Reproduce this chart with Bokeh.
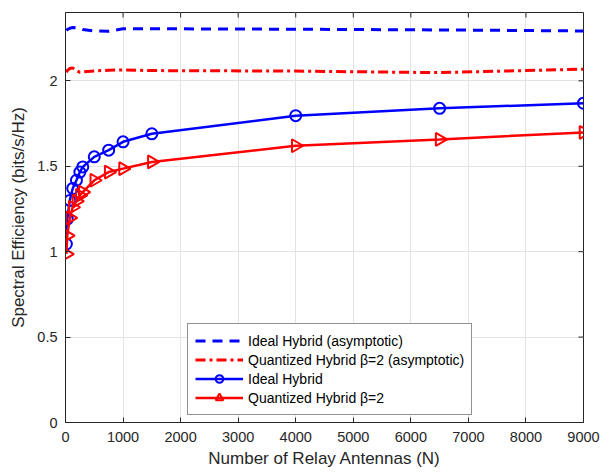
import math
from bokeh.plotting import figure
from bokeh.models import Range1d, FixedTicker, Legend, LegendItem
from bokeh.embed import file_html
from bokeh.resources import INLINE

# ---- data ----
N = [15, 30, 75, 125, 190, 250, 300, 500, 750, 1000, 1500, 4000, 6500, 9000]
ideal_asym = [2.295, 2.300, 2.308, 2.312, 2.310, 2.306, 2.300, 2.292, 2.290, 2.305, 2.305, 2.302, 2.298, 2.292]
quant_asym = [2.050, 2.060, 2.072, 2.076, 2.060, 2.050, 2.052, 2.058, 2.062, 2.064, 2.060, 2.057, 2.048, 2.068]
ideal = [1.045, 1.19, 1.30, 1.37, 1.418, 1.466, 1.496, 1.555, 1.594, 1.643, 1.69, 1.796, 1.839, 1.869]
quant = [0.986, 1.094, 1.198, 1.26, 1.296, 1.33, 1.349, 1.418, 1.466, 1.486, 1.525, 1.62, 1.657, 1.698]

x_ticks = [0, 1000, 2000, 3000, 4000, 5000, 6000, 7000, 8000, 9000]
y_ticks = [0, 0.5, 1, 1.5, 2]
y_labels = {0: "0", 0.5: "0.5", 1: "1", 1.5: "1.5", 2: "2"}
x_max = 9000
y_max = 2.4

FONT = "Liberation Sans"
BLUE = "#0000FF"
RED = "#FF0000"
AX = "#262626"

p = figure(width=609, height=472, output_backend="svg", toolbar_location=None,
           x_range=Range1d(0, x_max), y_range=Range1d(0, y_max),
           min_border_left=65, min_border_right=26, min_border_top=12, min_border_bottom=50)
p.background_fill_color = "white"
p.border_fill_color = "white"
p.outline_line_color = AX
p.outline_line_width = 1

for ax in (p.xaxis[0], p.yaxis[0]):
    ax.axis_line_color = AX
    ax.major_tick_line_color = AX
    ax.major_tick_in = 5
    ax.major_tick_out = 0
    ax.minor_tick_line_color = None
    ax.major_label_text_font = FONT
    ax.major_label_text_font_size = "14.5px"
    ax.major_label_text_color = AX
    ax.axis_label_text_font = FONT
    ax.axis_label_text_font_style = "normal"
    ax.axis_label_text_color = AX
    ax.axis_label_text_font_size = "17px"

p.xaxis[0].ticker = FixedTicker(ticks=x_ticks)
p.yaxis[0].ticker = FixedTicker(ticks=y_ticks)
p.yaxis[0].major_label_overrides = y_labels
p.xaxis[0].axis_label = "Number of Relay Antennas (N)"
p.yaxis[0].axis_label = "Spectral Efficiency (bits/s/Hz)"
p.xaxis[0].major_label_standoff = 9
p.yaxis[0].major_label_standoff = 8
p.xaxis[0].axis_label_standoff = 4
p.yaxis[0].axis_label_standoff = 6

p.xgrid.ticker = FixedTicker(ticks=x_ticks)
p.ygrid.ticker = FixedTicker(ticks=y_ticks)
p.grid.grid_line_color = "#e3e3e3"
p.grid.grid_line_width = 1

# mirrored inward ticks on top and right edges of the box
p.ray(x=x_ticks, y=[y_max] * len(x_ticks), length=5, length_units="screen",
      angle=-math.pi / 2, line_color=AX, line_width=1)
p.ray(x=[x_max] * len(y_ticks), y=y_ticks, length=5, length_units="screen",
      angle=math.pi, line_color=AX, line_width=1)

r1 = p.line(N, ideal_asym, line_color=BLUE, line_width=3, line_dash="10 7")
r2 = p.line(N, quant_asym, line_color=RED, line_width=3, line_dash="10 4 3 4")
r3l = p.line(N, ideal, line_color=BLUE, line_width=2.5)
r3m = p.scatter(N, ideal, marker="circle", size=11, line_color=BLUE, line_width=2, fill_color=None)
r4l = p.line(N, quant, line_color=RED, line_width=2.5)
r4m = p.scatter(N, quant, marker="triangle", angle=-math.pi / 2, size=13, line_color=RED,
                line_width=2, fill_color=None)

legend = Legend(items=[
    LegendItem(label="Ideal Hybrid (asymptotic)", renderers=[r1]),
    LegendItem(label="Quantized Hybrid β=2 (asymptotic)", renderers=[r2]),
    LegendItem(label="Ideal Hybrid", renderers=[r3l, r3m]),
    LegendItem(label="Quantized Hybrid β=2", renderers=[r4l, r4m]),
], location=(122, 7))
legend.label_text_font = FONT
legend.label_text_font_size = "14px"
legend.label_text_color = "black"
legend.glyph_width = 48
legend.glyph_height = 19
legend.label_height = 19
legend.spacing = 0
legend.padding = 7
legend.margin = 0
legend.label_standoff = 5
legend.border_line_color = AX
legend.border_line_width = 1
legend.background_fill_alpha = 1
p.add_layout(legend, "center")

open("out.html", "w").write(file_html(p, INLINE))
